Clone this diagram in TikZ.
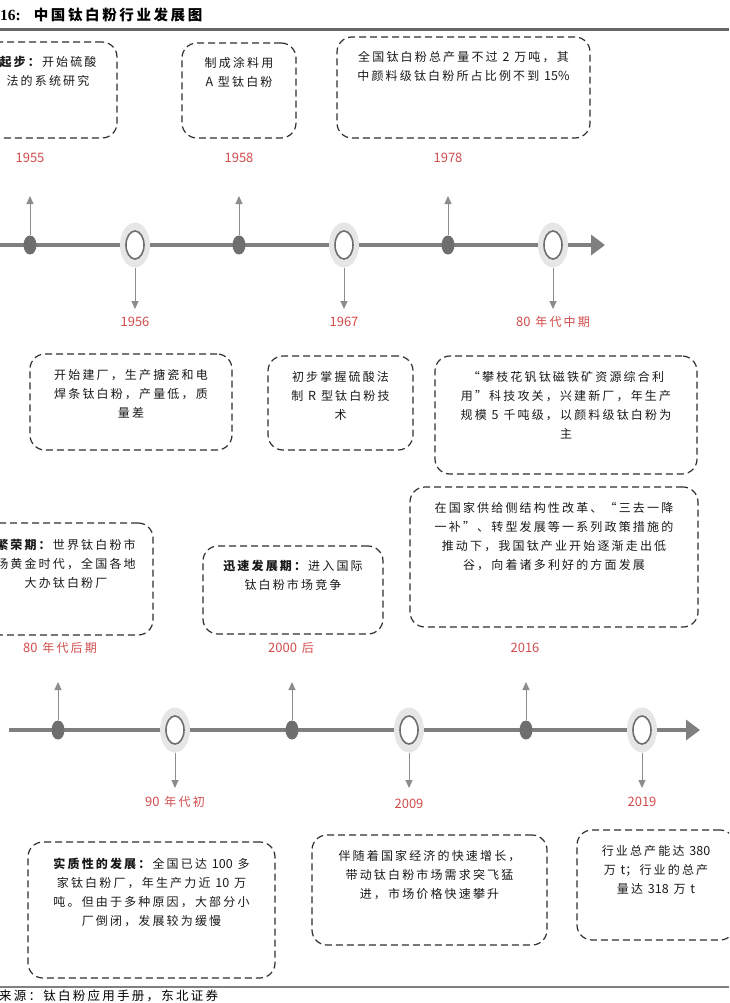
\documentclass[tikz,border=0pt]{standalone}
\usepackage{fontspec}
\setmainfont{Noto Sans CJK SC}[LetterSpace=18]
\newfontfamily\titleserif{Liberation Serif}
\newfontfamily\digitfont{Noto Sans CJK SC}
\newcommand\nm[1]{{\digitfont\fontsize{12.5}{19}\selectfont #1}}
\newcommand\yr[1]{{\digitfont\fontsize{13}{16}\selectfont #1}}
\usetikzlibrary{positioning,shapes.geometric,arrows.meta}
\definecolor{axisgray}{HTML}{7F7F7F}
\definecolor{dotgray}{HTML}{6E6E6E}
\definecolor{halogray}{HTML}{E6E6E6}
\definecolor{stemgray}{HTML}{8C8C8C}
\definecolor{yearred}{HTML}{D24B4B}
\definecolor{boxline}{HTML}{2E2E2E}
\tikzset{
  axis/.style={line width=4pt, axisgray, -{Triangle[length=14pt,width=20pt]}},
  stem/.style={stemgray, line width=1pt, -{Triangle[length=8pt,width=7pt]}},
  dot/.style={ellipse, fill=dotgray, minimum width=13pt, minimum height=19pt, inner sep=0pt},
  halo/.style={ellipse, fill=halogray, minimum width=30pt, minimum height=45pt, inner sep=0pt},
  ring/.style={ellipse, draw=dotgray, fill=white, line width=1.6pt, minimum width=18pt, minimum height=28pt, inner sep=0pt},
  year/.style={text=yearred, font=\fontsize{12}{14}\selectfont, inner sep=1pt},
  eventbox/.style={draw=boxline, line width=1.2pt, dash pattern=on 7pt off 4pt, rounded corners=15pt, inner sep=0pt},
  txt/.style={align=center, inner sep=0pt, font=\fontsize{12}{19}\selectfont, text=black!90},
}
\begin{document}
\begin{tikzpicture}[x=1pt,y=-1pt]
\useasboundingbox (0,0) rectangle (729,1003);
\clip (0,0) rectangle (729,1003);
% title and rules
\node[anchor=west, inner sep=0pt, font=\fontsize{14.5}{14}\selectfont\bfseries] (title) at (0,15) {{\titleserif\fontsize{15.5}{14}\selectfont 16:}\hspace{13pt}中国钛白粉行业发展图};
\coordinate (rl) at (0,29.5);
\coordinate (rr) at (729,29.5);
\draw[line width=2.5pt, black!60] (rl) -- (rr);
\coordinate (fl) at (0,987);
\coordinate (fr) at (729,987);
\draw[line width=1.2pt, black!50] (fl) -- (fr);
\node[anchor=north west, inner sep=0pt, font=\fontsize{12.5}{14}\selectfont] (source) at (-1,990) {来源：钛白粉应用手册，东北证券};

% upper boxes
\node[eventbox, minimum width=138pt, minimum height=96pt] (b1) at (48,90) {};
\node[txt, below=15pt of b1.north] (t1) {\textbf{起步：}开始硫酸\\法的系统研究};
\node[eventbox, minimum width=114pt, minimum height=95pt] (b2) at (239,90.5) {};
\node[txt, below=15pt of b2.north] (t2) {制成涂料用\\\nm{A} 型钛白粉};
\node[eventbox, minimum width=253pt, minimum height=101pt] (b3) at (463.5,87.5) {};
\node[txt, below=15pt of b3.north] (t3) {全国钛白粉总产量不过 \nm{2} 万吨，其\\中颜料级钛白粉所占比例不到 \nm{15\%}};
\node[eventbox, minimum width=202pt, minimum height=96pt] (b4) at (131,402) {};
\node[txt, below=16pt of b4.north] (t4) {开始建厂，生产搪瓷和电\\焊条钛白粉，产量低，质\\量差};
\node[eventbox, minimum width=145pt, minimum height=94pt] (b5) at (340.5,403) {};
\node[txt, below=16pt of b5.north] (t5) {初步掌握硫酸法\\制 \nm{R} 型钛白粉技\\术};
\node[eventbox, minimum width=262pt, minimum height=118pt] (b6) at (566,415) {};
\node[txt, below=16pt of b6.north] (t6) {“攀枝花钒钛磁铁矿资源综合利\\用”科技攻关，兴建新厂，年生产\\规模 \nm{5} 千吨级，以颜料级钛白粉为\\主};

% middle boxes
\node[eventbox, minimum width=174pt, minimum height=112pt] (b7) at (66,579) {};
\node[txt, below=17pt of b7.north] (t7) {\textbf{繁荣期：}世界钛白粉市\\场黄金时代，全国各地\\大办钛白粉厂};
\node[eventbox, minimum width=180pt, minimum height=88pt] (b8) at (293,590) {};
\node[txt, below=15pt of b8.north] (t8) {\textbf{迅速发展期：}进入国际\\钛白粉市场竞争};
\node[eventbox, minimum width=288pt, minimum height=140pt] (b9) at (554,557) {};
\node[txt, below=16pt of b9.north] (t9) {在国家供给侧结构性改革、“三去一降\\一补”、转型发展等一系列政策措施的\\推动下，我国钛产业开始逐渐走出低\\谷，向着诸多利好的方面发展};

% lower boxes
\node[eventbox, minimum width=247pt, minimum height=136pt] (b10) at (151.5,910) {};
\node[txt, below=16pt of b10.north] (t10) {\textbf{实质性的发展：}全国已达 \nm{100} 多\\家钛白粉厂，年生产力近 \nm{10} 万\\吨。但由于多种原因，大部分小\\厂倒闭，发展较为缓慢};
\node[eventbox, minimum width=235pt, minimum height=110pt] (b11) at (429.5,890) {};
\node[txt, below=16pt of b11.north] (t11) {伴随着国家经济的快速增长，\\带动钛白粉市场需求突飞猛\\进，市场价格快速攀升};
\node[eventbox, minimum width=158pt, minimum height=110pt] (b12) at (656,885) {};
\node[txt, below=16pt of b12.north] (t12) {行业总产能达 \nm{380}\\万 \nm{t}；行业的总产\\量达 \nm{318} 万 \nm{t}};

% upper timeline
\coordinate (a1) at (0,245);
\coordinate (a2) at (605,245);
\draw[axis] (a1) -- (a2);
\foreach \n/\x in {1/30,2/239,3/448}{
  \coordinate (u\n) at (\x,196);
  \node[dot] (d\n) at (\x,245) {};
  \draw[stem] (d\n) -- (u\n);
}
\foreach \n/\x in {1/135,2/344,3/553}{
  \coordinate (w\n) at (\x,309);
  \node[halo] (h\n) at (\x,245) {};
  \node[ring] (r\n) at (h\n) {};
  \draw[stem] (h\n) -- (w\n);
}

% lower timeline
\coordinate (a3) at (9,730);
\coordinate (a4) at (700,730);
\draw[axis] (a3) -- (a4);
\foreach \n/\x in {4/58,5/292,6/526}{
  \coordinate (u\n) at (\x,682);
  \node[dot] (d\n) at (\x,730) {};
  \draw[stem] (d\n) -- (u\n);
}
\foreach \n/\x in {4/175,5/409,6/642}{
  \coordinate (w\n) at (\x,788);
  \node[halo] (h\n) at (\x,730) {};
  \node[ring] (r\n) at (h\n) {};
  \draw[stem] (h\n) -- (w\n);
}

% years
\foreach \n/\x/\y/\t in {1/30/158/\yr{1955}, 2/239/158/\yr{1958}, 3/448/158/\yr{1978},
    4/135/322/\yr{1956}, 5/344/322/\yr{1967}, 6/553/322/\yr{80} 年代中期,
    7/60/648/\yr{80} 年代后期, 8/291/648/\yr{2000} 后, 9/525/648/\yr{2016},
    10/175/802/\yr{90} 年代初, 11/409/804/\yr{2009}, 12/642/802/\yr{2019}}
  \node[year] (y\n) at (\x,\y) {\t};
\end{tikzpicture}
\end{document}
